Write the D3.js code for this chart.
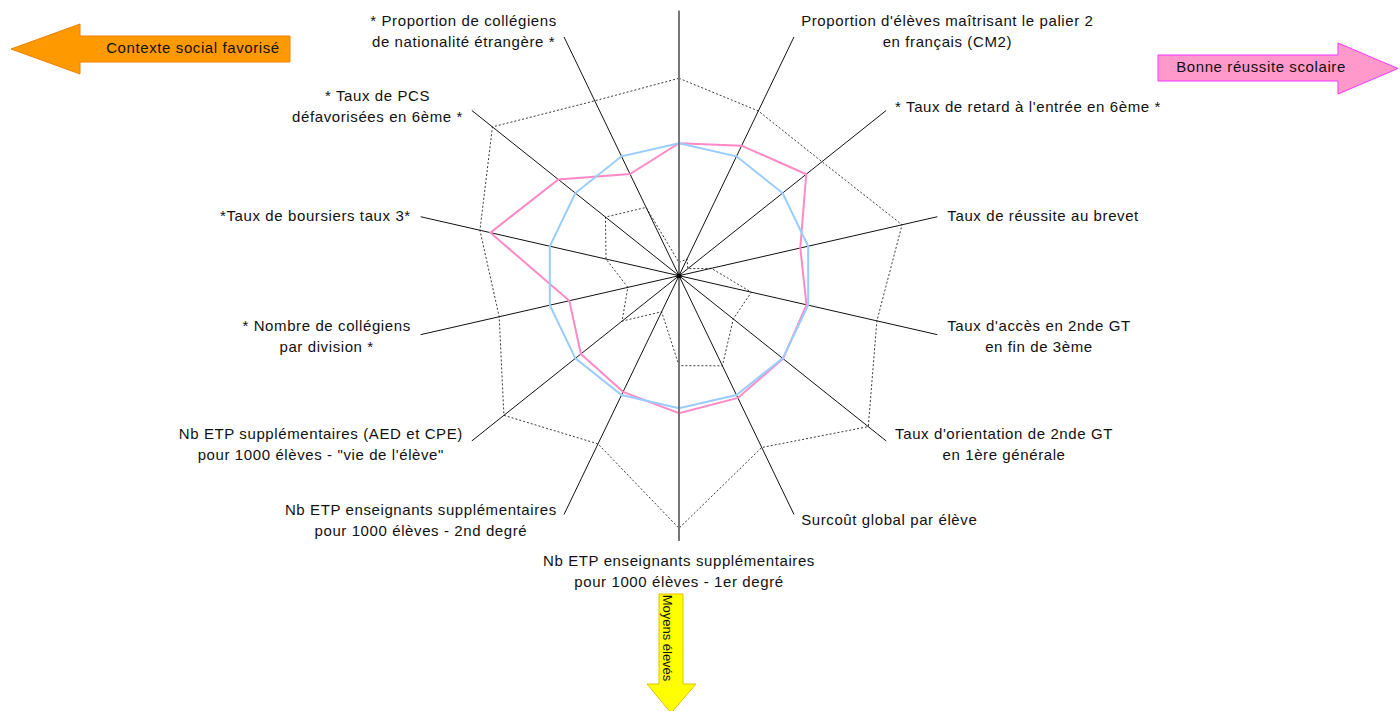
<!DOCTYPE html>
<html>
<head>
<meta charset="utf-8">
<script src="https://cdn.jsdelivr.net/npm/d3@7"></script>
<style>
  body { margin: 0; background: #fff; }
  text { font-family: "Liberation Sans", Arial, sans-serif; }
  .lbl { font-size: 15px; letter-spacing: 0.6px; }
</style>
</head>
<body>
<div id="container"></div>
<script>
/* CONSTANTS AND GLOBALS */
const width = 1400;
const height = 711;
const cx = 679, cy = 275.7; // radar centre
const R = 265;

/* DATA */
const categories = [
  "",
  "Proportion d'élèves maîtrisant le palier 2\nen français (CM2)",
  "* Taux de retard à l'entrée en 6ème *",
  "Taux de réussite au brevet",
  "Taux d'accès en 2nde GT\nen fin de 3ème",
  "Taux d'orientation de 2nde GT\nen 1ère générale",
  "Surcoût global par élève",
  "Nb ETP enseignants supplémentaires\npour 1000 élèves - 1er degré",
  "Nb ETP enseignants supplémentaires\npour 1000 élèves - 2nd degré",
  "Nb ETP supplémentaires (AED et CPE)\npour 1000 élèves - \"vie de l'élève\"",
  "* Nombre de collégiens\npar division *",
  "*Taux de boursiers taux 3*",
  "* Taux de PCS\ndéfavorisées en 6ème *",
  "* Proportion de collégiens\nde nationalité étrangère *"
];
const maxValues   = [149, 138, 138, 172.7, 153.2, 182.7, 143.9, 190.6, 140.9, 169, 139.2, 154.1, 180.1, 146.5];
const minValues   = [10, 14, 8.5, 25, 56, 52.4, 75.5, 67.9, 30.2, 55, 39.6, 56.5, 71, 57.2];
const etabValues  = [100, 108.9, 122.8, 93.9, 98.7, 100.5, 102.4, 103.8, 97.3, 94.7, 84.9, 146, 116.5, 85.2];
const refValues   = [100, 100, 100, 100, 100, 100, 100, 100, 100, 100, 100, 100, 100, 100];

/* SCALES */
const angle = d3.scaleLinear().domain([0, categories.length]).range([0, 2 * Math.PI]);
const rScale = d3.scaleLinear().domain([0, 200]).range([0, R]);

const svg = d3.select("#container")
  .append("svg")
  .attr("width", width)
  .attr("height", height);

const chart = svg.append("g").attr("transform", `translate(${cx},${cy})`);

const radar = d3.lineRadial()
  .angle((d, i) => angle(i))
  .radius(d => rScale(d))
  .curve(d3.curveLinearClosed);

// min / max envelopes (dotted)
[maxValues, minValues].forEach(vals => {
  chart.append("path")
    .attr("d", radar(vals))
    .attr("fill", "none")
    .attr("stroke", "#222")
    .attr("stroke-width", 0.9)
    .attr("stroke-dasharray", "2,2");
});

// axes
chart.selectAll(".axis")
  .data(categories)
  .join("line")
  .attr("class", "axis")
  .attr("x1", 0).attr("y1", 0)
  .attr("x2", (d, i) => rScale(200) * Math.sin(angle(i)))
  .attr("y2", (d, i) => -rScale(200) * Math.cos(angle(i)))
  .attr("stroke", "#111")
  .attr("stroke-width", 1);

// series
chart.append("path")
  .attr("d", radar(etabValues))
  .attr("fill", "none")
  .attr("stroke", "#ff8ac6")
  .attr("stroke-width", 2);

chart.append("path")
  .attr("d", radar(refValues))
  .attr("fill", "none")
  .attr("stroke", "#99ccff")
  .attr("stroke-width", 2);

// vertical grey line
chart.append("line")
  .attr("x1", 0).attr("x2", 0)
  .attr("y1", -rScale(200)).attr("y2", rScale(200))
  .attr("stroke", "#777")
  .attr("stroke-width", 2);

chart.append("circle").attr("r", 2.5).attr("fill", "#000");

// labels
const lh = 21;
categories.forEach((cat, i) => {
  if (!cat) return;
  const a = angle(i);
  const s = Math.sin(a), c = Math.cos(a);
  const ex = rScale(200) * s, ey = -rScale(200) * c;
  const lines = cat.split("\n");
  const g = chart.append("g");
  const t = g.append("text").attr("class", "lbl").attr("text-anchor", "middle").attr("fill", "#111");
  lines.forEach((l, k) => {
    t.append("tspan")
      .attr("x", 0)
      .attr("y", (k - (lines.length - 1) / 2) * lh)
      .attr("dy", "0.35em")
      .text(l);
  });
  const w = t.node().getBBox().width;
  let px, py;
  if (Math.abs(s) < 0.1) {
    px = ex;
    py = ey - c * (lines.length * lh / 2 + 10);
  } else {
    px = ex + Math.sign(s) * (5 + 5 * Math.abs(s) + w / 2);
    py = ey - c * 6;
  }
  g.attr("transform", `translate(${px},${py})`);
});

/* ARROWS */
const arrows = svg.append("g");
arrows.append("polygon")
  .attr("points", "11,49 80,24 80,36 290,36 290,62 80,62 80,74")
  .attr("fill", "#ff9900").attr("stroke", "#f08000");
arrows.append("text")
  .attr("class", "lbl")
  .attr("x", 193).attr("y", 48).attr("dy", "0.35em")
  .attr("text-anchor", "middle").attr("fill", "#111")
  .text("Contexte social favorisé");

arrows.append("polygon")
  .attr("points", "1158,55 1338,55 1338,43 1398,68.5 1338,94 1338,81 1158,81")
  .attr("fill", "#ff99cc").attr("stroke", "#ff33ff");
arrows.append("text")
  .attr("class", "lbl")
  .attr("x", 1261).attr("y", 67).attr("dy", "0.35em")
  .attr("text-anchor", "middle").attr("fill", "#111")
  .text("Bonne réussite scolaire");

arrows.append("polygon")
  .attr("points", "659,594 683,594 683,684 696,684 671,713 647,684 659,684")
  .attr("fill", "#ffff00").attr("stroke", "#e0c000");
arrows.append("text")
  .attr("transform", "translate(668,638) rotate(90)")
  .attr("dy", "0.35em")
  .attr("text-anchor", "middle").attr("font-size", 13).attr("fill", "#111")
  .text("Moyens élevés");
</script>
</body>
</html>
